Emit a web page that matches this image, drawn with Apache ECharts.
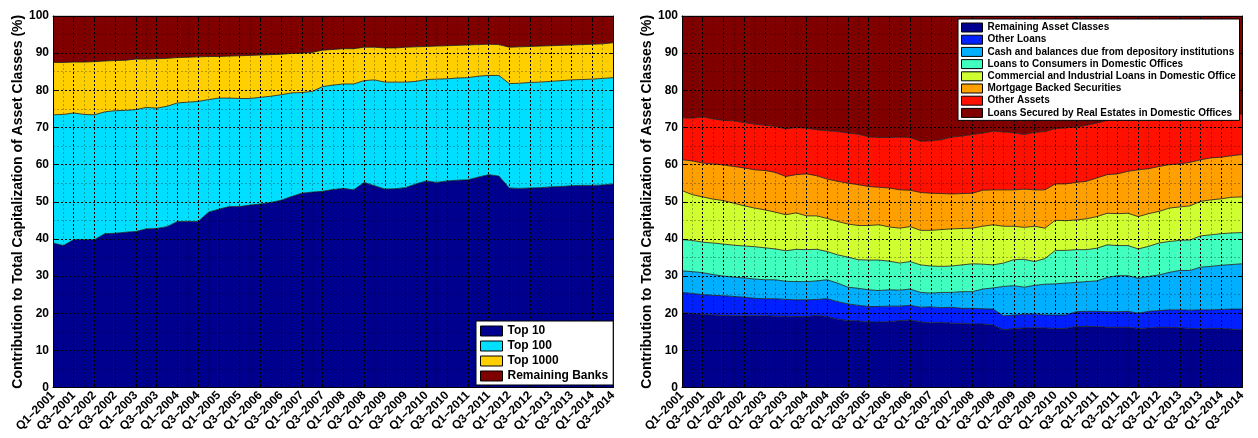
<!DOCTYPE html>
<html>
<head>
<meta charset="utf-8">
<script src="https://cdn.jsdelivr.net/npm/echarts@6/dist/echarts.min.js"></script>
<style>
html,body{margin:0;padding:0;background:#fff;}
#chart{width:1258px;height:438px;}
</style>
</head>
<body>
<div id="chart"></div>
<script>
// ---- categories (quarters) ----
const quarters = ['Q1–2001','Q2–2001','Q3–2001','Q4–2001','Q1–2002','Q2–2002','Q3–2002','Q4–2002',
  'Q1–2003','Q2–2003','Q3–2003','Q4–2003','Q1–2004','Q2–2004','Q3–2004','Q4–2004',
  'Q1–2005','Q2–2005','Q3–2005','Q4–2005','Q1–2006','Q2–2006','Q3–2006','Q4–2006',
  'Q1–2007','Q2–2007','Q3–2007','Q4–2007','Q1–2008','Q2–2008','Q3–2008','Q4–2008',
  'Q1–2009','Q2–2009','Q3–2009','Q4–2009','Q1–2010','Q2–2010','Q3–2010','Q4–2010',
  'Q1–2011','Q2–2011','Q3–2011','Q4–2011','Q1–2012','Q2–2012','Q3–2012','Q4–2012',
  'Q1–2013','Q2–2013','Q3–2013','Q4–2013','Q1–2014','Q2–2014','Q3–2014'];

// ---- left panel: bank size groups (% share) ----
const leftNames = ['Top 10','Top 100','Top 1000','Remaining Banks'];
const top10 = [38.9,38.2,39.8,39.8,39.8,41.4,41.5,41.8,42.0,42.7,42.8,43.3,44.7,44.7,44.7,47.2,48.0,48.7,48.7,49.1,49.4,49.8,50.4,51.4,52.3,52.6,52.8,53.3,53.6,53.2,55.2,54.3,53.4,53.5,53.8,54.8,55.6,55.2,55.6,55.8,55.9,56.6,57.3,56.9,53.7,53.6,53.7,53.8,54.0,54.1,54.3,54.4,54.4,54.5,54.8];
const top100 = [34.5,35.3,34.1,33.7,33.6,32.8,33.0,32.8,32.8,32.7,32.4,32.4,31.9,32.1,32.3,30.3,29.9,29.2,29.1,28.7,28.7,28.6,28.4,27.9,27.1,27.1,28.2,28.1,28.1,28.5,27.4,28.5,28.8,28.7,28.4,27.6,27.3,27.8,27.5,27.5,27.5,27.2,26.7,27.1,28.1,28.3,28.4,28.4,28.4,28.5,28.5,28.5,28.6,28.7,28.6];
const top1000 = [14.1,14.0,13.7,14.1,14.3,13.7,13.5,13.5,13.6,13.0,13.3,12.9,12.2,12.1,12.0,11.6,11.2,11.3,11.5,11.6,11.4,11.2,10.9,10.6,10.6,10.5,9.8,9.6,9.5,9.5,9.0,8.8,9.2,9.2,9.4,9.3,8.9,8.9,8.9,8.8,8.8,8.5,8.4,8.3,9.8,9.8,9.7,9.7,9.6,9.5,9.4,9.4,9.4,9.3,9.4];
const remainingBanks = [12.5,12.5,12.4,12.4,12.3,12.1,12.0,11.9,11.6,11.6,11.5,11.4,11.2,11.1,11.0,10.9,10.9,10.8,10.7,10.6,10.5,10.4,10.3,10.1,10.0,9.8,9.2,9.0,8.8,8.8,8.4,8.4,8.6,8.6,8.4,8.3,8.2,8.1,8.0,7.9,7.8,7.7,7.6,7.7,8.4,8.3,8.2,8.1,8.0,7.9,7.8,7.7,7.6,7.5,7.2];
const leftColors = ['#00008f','#00dfff','#ffcf00','#800000'];

// ---- right panel: asset classes (% share) ----
const rightNames = ['Remaining Asset Classes','Other Loans','Cash and balances due from depository institutions',
  'Loans to Consumers in Domestic Offices','Commercial and Industrial Loans in Domestic Offices',
  'Mortgage Backed Securities','Other Assets','Loans Secured by Real Estates in Domestic Offices'];
const remainingAsset = [20.2,19.9,19.7,19.5,19.4,19.3,19.3,19.3,19.3,19.2,19.2,19.1,19.1,19.4,19.1,18.4,18.0,17.9,17.6,17.6,17.7,18.0,18.2,17.6,17.4,17.5,17.3,17.3,17.1,17.1,16.8,15.5,15.9,16.0,16.1,16.0,15.9,15.9,16.4,16.4,16.4,16.2,16.2,16.2,15.9,16.0,16.2,16.2,16.1,15.9,15.8,15.9,15.9,15.7,15.5];
const otherLoans = [5.4,5.4,5.3,5.3,5.3,5.2,5.0,4.7,4.6,4.7,4.5,4.5,4.5,4.3,4.8,4.7,4.5,4.2,4.2,4.2,4.2,3.9,3.9,4.0,4.3,4.0,4.3,4.0,4.2,4.1,4.3,3.8,3.6,3.7,3.7,3.5,3.6,3.6,4.0,4.1,4.1,4.2,4.2,4.3,4.1,4.5,4.5,4.7,4.8,4.9,5.1,5.0,5.1,5.4,5.6];
const cash = [5.8,5.9,5.9,5.6,5.3,5.2,5.2,5.2,5.1,5.1,4.9,4.9,4.9,5.0,5.1,5.0,4.5,4.6,4.5,4.3,4.4,4.3,4.4,4.0,3.7,4.1,4.0,4.5,4.5,5.3,5.7,7.9,7.9,7.3,7.7,8.3,8.4,8.6,7.9,8.0,8.2,9.2,9.7,9.6,9.4,9.4,9.6,10.1,10.6,10.7,11.5,11.7,11.9,12.0,12.2];
const consumers = [8.4,8.4,8.2,8.5,8.6,8.6,8.6,8.7,8.6,8.3,8.2,8.7,8.6,8.5,7.6,7.6,8.1,7.7,8.0,8.2,7.7,7.3,7.4,7.4,7.3,7.0,7.1,7.2,7.5,6.7,6.2,6.3,7.0,7.5,6.4,6.9,9.0,8.8,8.8,8.6,8.8,8.8,8.1,8.1,7.9,8.1,8.6,8.3,8.1,8.2,8.4,8.5,8.5,8.5,8.4];
const commercialIndustrial = [13.2,12.3,12.2,11.8,11.7,11.3,10.8,10.4,10.2,9.9,9.7,9.8,9.1,9.0,8.9,9.0,8.9,9.2,9.3,9.5,9.2,9.4,9.4,9.3,9.6,9.9,10.0,9.8,9.6,10.2,10.8,9.9,9.0,8.6,9.5,8.2,8.1,8.0,8.0,8.3,8.5,8.5,8.6,8.7,8.7,8.8,8.5,9.0,9.0,9.2,9.3,9.4,9.4,9.6,9.6];
const mbs = [8.3,9.1,9.1,9.5,9.6,9.9,10.2,10.3,10.6,10.7,10.3,10.3,11.3,10.8,10.6,10.8,11.0,11.0,10.5,10.1,10.5,10.3,9.8,10.2,10.0,9.7,9.4,9.4,9.4,9.7,9.4,9.8,9.8,10.3,9.8,10.3,9.8,9.9,10.1,10.1,10.4,10.4,10.7,11.3,12.6,12.1,12.1,11.7,11.6,11.7,11.2,11.3,11.2,11.2,11.4];
const otherAssets = [11.3,11.5,12.5,12.1,12.0,12.3,12.2,12.3,12.2,12.4,12.8,12.7,12.3,12.4,13.0,13.4,13.5,13.6,13.4,13.4,13.6,14.2,14.2,13.8,14.1,14.5,15.3,15.5,15.8,15.4,15.8,15.6,15.4,14.7,15.5,15.7,14.9,15.1,14.9,15.1,14.8,14.6,14.8,14.3,13.5,13.3,12.8,12.5,12.5,12.3,11.8,11.4,11.4,11.1,10.9];
const realEstate = [27.4,27.5,27.1,27.7,28.1,28.2,28.7,29.1,29.4,29.7,30.4,30.0,30.2,30.6,30.9,31.1,31.5,31.8,32.5,32.7,32.7,32.6,32.7,33.7,33.6,33.3,32.6,32.3,31.9,31.5,31.0,31.2,31.4,31.9,31.3,31.1,30.3,30.1,29.9,29.4,28.8,28.1,27.7,27.5,27.9,27.8,27.7,27.5,27.3,27.1,26.9,26.8,26.6,26.5,26.4];
const rightColors = ['#00008f','#0020ff','#00afff','#40ffbf','#cfff30','#ff9f00','#ff1000','#800000'];

// ---- y ticks ----
const yMin = 0, yMax = 100, yStep = 10;
const yTitle = 'Contribution to Total Capitalization of Asset Classes (%)';

const FONT = "'Liberation Sans', Arial, Helvetica, sans-serif";
const leftData = [top10, top100, top1000, remainingBanks];
const rightData = [remainingAsset, otherLoans, cash, consumers, commercialIndustrial, mbs, otherAssets, realEstate];

const AXZ = 10;
function xAxes(gridIndex){
  return [{
    type:'category', gridIndex, data: quarters, boundaryGap:false, position:'bottom', z:AXZ,
    axisLine:{show:true, onZero:false, lineStyle:{color:'#000', width:1}},
    axisTick:{show:true, inside:true, interval:1, length:4, lineStyle:{color:'#000'}},
    axisLabel:{show:true, interval:1, rotate:45, margin:6, color:'#000', fontFamily:FONT, fontWeight:'bold', fontSize:12},
    splitLine:{show:true, interval:1, lineStyle:{color:'#000', width:1, type:[2,2]}}
  },{
    type:'category', gridIndex, data: quarters, boundaryGap:false, position:'top', z:AXZ,
    axisLine:{show:true, onZero:false, lineStyle:{color:'#000', width:1}},
    axisTick:{show:true, inside:true, interval:1, length:4, lineStyle:{color:'#000'}},
    axisLabel:{show:false},
    splitLine:{show:true, interval:0, lineStyle:{color:'rgba(0,0,0,0.28)', width:1, type:[2,2]}}
  }];
}
function yAxes(gridIndex){
  return [{
    type:'value', gridIndex, min:yMin, max:yMax, interval:yStep, position:'left', z:AXZ,
    name: yTitle, nameLocation:'middle', nameGap:27,
    nameTextStyle:{color:'#000', fontFamily:FONT, fontWeight:'bold', fontSize:14},
    axisLine:{show:true, lineStyle:{color:'#000', width:1}},
    axisTick:{show:true, inside:true, length:4, lineStyle:{color:'#000'}},
    axisLabel:{show:true, margin:4, color:'#000', fontFamily:FONT, fontWeight:'bold', fontSize:12},
    splitLine:{show:true, lineStyle:{color:'#000', width:1, type:[2,2]}},
    minorTick:{show:false, splitNumber:2},
    minorSplitLine:{show:true, lineStyle:{color:'rgba(0,0,0,0.28)', width:1, type:[2,2]}}
  },{
    type:'value', gridIndex, min:yMin, max:yMax, interval:yStep, position:'right', z:AXZ,
    axisLine:{show:true, lineStyle:{color:'#000', width:1}},
    axisTick:{show:true, inside:true, length:4, lineStyle:{color:'#000'}},
    axisLabel:{show:false}, splitLine:{show:false}
  }];
}
function mkSeries(names, data, colors, axisIdx, stack){
  return names.map((n,k)=>({
    name:n, type:'line', stack, data:data[k], xAxisIndex:axisIdx, yAxisIndex:axisIdx,
    z:1, symbol:'none', color:colors[k], smooth:false,
    lineStyle:{color:'#1a1a1a', width:0.8},
    areaStyle:{color:colors[k], opacity:1},
    emphasis:{disabled:true}
  }));
}

const chart = echarts.init(document.getElementById('chart'), null, {renderer:'canvas'});
chart.setOption({
  animation:false,
  backgroundColor:'#fff',
  grid:[
    {left:53, right:645, top:16, bottom:50.5, outerBoundsMode:'none', z:AXZ},
    {left:682, right:16, top:16, bottom:50.5, outerBoundsMode:'none', z:AXZ}
  ],
  xAxis:[...xAxes(0), ...xAxes(1)],
  yAxis:[...yAxes(0), ...yAxes(1)],
  legend:[{
    data:leftNames, orient:'vertical', left:476, top:321, z:30, selectedMode:false,
    icon:'rect', itemWidth:22, itemHeight:10, itemGap:1, padding:[3,5,2,4],
    backgroundColor:'#fff', borderColor:'#000', borderWidth:1,
    itemStyle:{borderColor:'#000', borderWidth:1},
    textStyle:{color:'#000', fontFamily:FONT, fontWeight:'bold', fontSize:12, lineHeight:14}
  },{
    data:rightNames, orient:'vertical', left:958, top:19, z:30, selectedMode:false,
    icon:'rect', itemWidth:21, itemHeight:9, itemGap:1.2, padding:[3,2,2,3],
    backgroundColor:'#fff', borderColor:'#000', borderWidth:1,
    itemStyle:{borderColor:'#000', borderWidth:1},
    textStyle:{color:'#000', fontFamily:FONT, fontWeight:'bold', fontSize:10, lineHeight:11,
      width:250, overflow:'truncate', ellipsis:''}
  }],
  series:[...mkSeries(leftNames, leftData, leftColors, 0, 'left'),
          ...mkSeries(rightNames, rightData, rightColors, 2, 'right')]
});
</script>
</body>
</html>
